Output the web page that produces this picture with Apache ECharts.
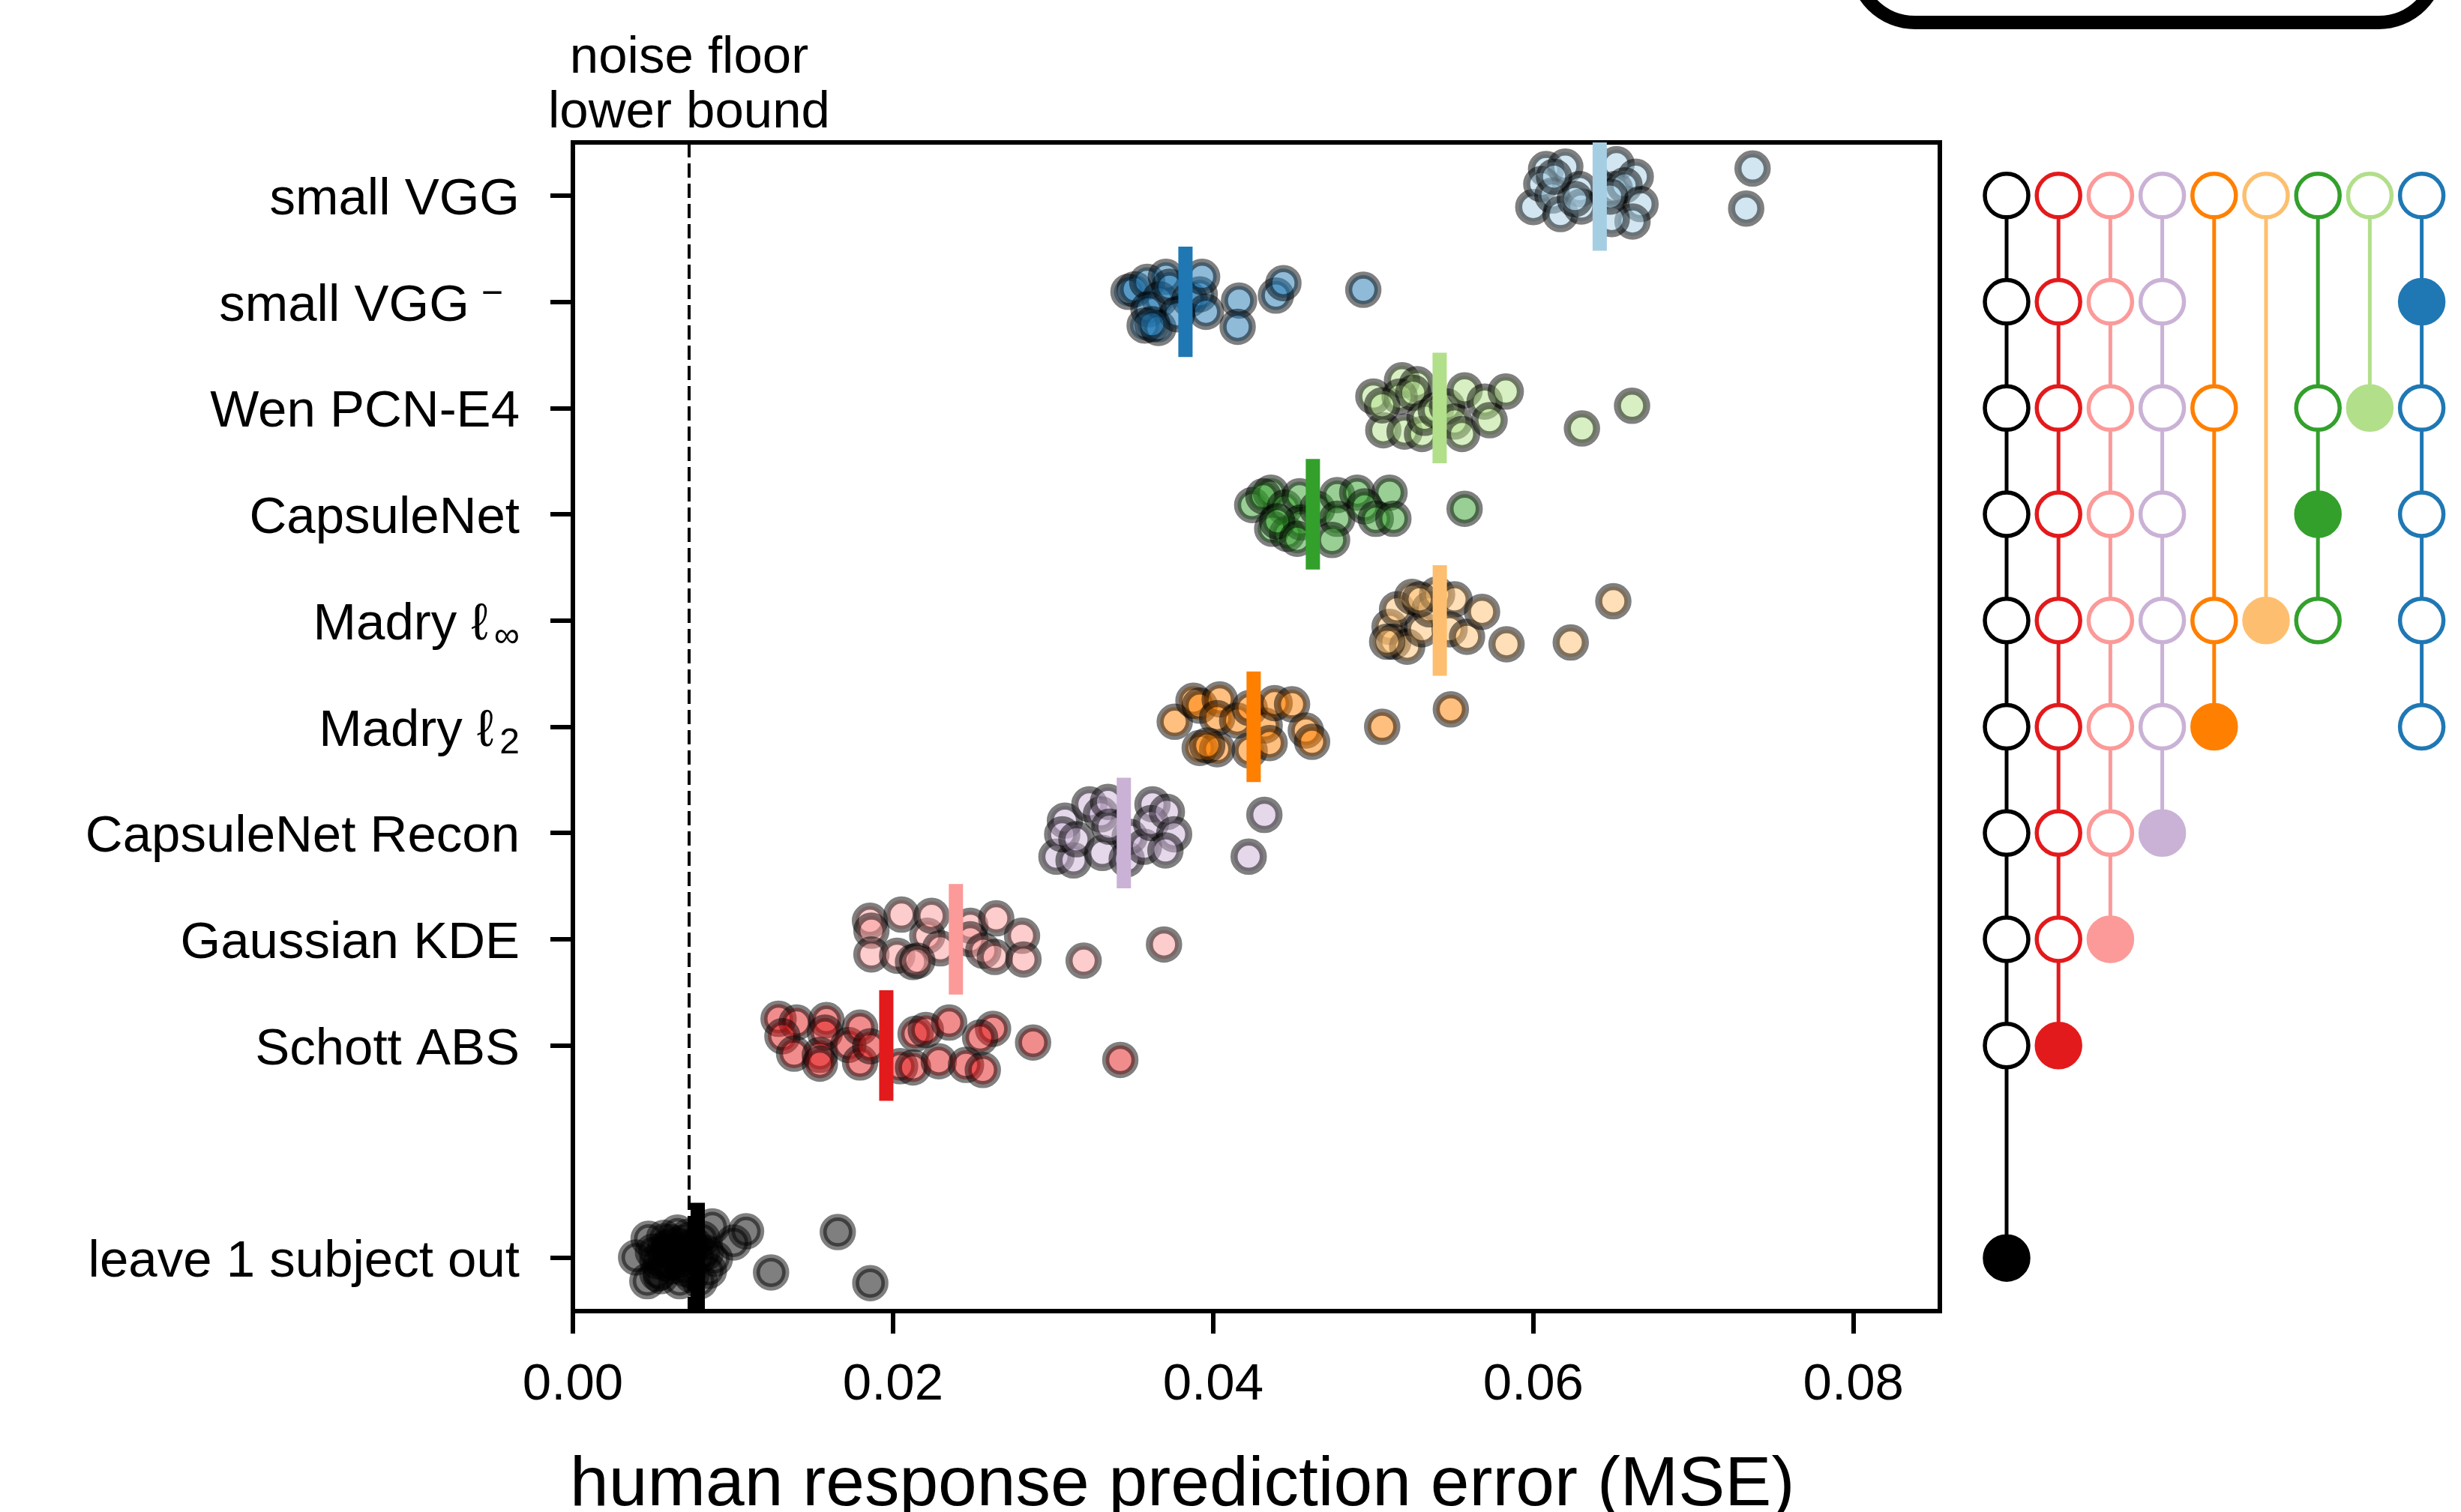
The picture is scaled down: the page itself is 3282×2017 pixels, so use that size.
<!DOCTYPE html>
<html><head><meta charset="utf-8">
<script src="https://cdn.jsdelivr.net/npm/echarts@6/dist/echarts.min.js"></script>
<style>html,body{margin:0;padding:0;background:#fff;} #c{width:3282px;height:2017px;}</style>
</head><body><div id="c"></div>
<script>
// ---------- data ----------
const categories = ['leave 1 subject out', 'Schott ABS', 'Gaussian KDE', 'CapsuleNet Recon', 'Madry ℓ{sub|2}', 'Madry ℓ{sub|∞}', 'CapsuleNet', 'Wen PCN-E4', 'small VGG{sup|−}', 'small VGG'];
const positions = [0, 2, 3, 4, 5, 6, 7, 8, 9, 10];
const colors = ['#000000', '#e31a1c', '#fb9a99', '#cab2d6', '#ff7f00', '#fdbf6f', '#33a02c', '#b2df8a', '#1f78b4', '#a6cee3'];
const means = [0.0078, 0.01958, 0.02393, 0.03442, 0.04253, 0.05416, 0.04623, 0.05415, 0.03827, 0.06415];
const noiseFloor = 0.00726;
const xTicks = [0, 0.02, 0.04, 0.06, 0.08];
const xTitle = 'human response prediction error (MSE)';

// [MSE, vertical jitter (category units, + = up)]
const leave1Pts = [[0.00473,0.181],[0.00395,0.005],[0.00465,-0.218],[0.00528,-0.030],[0.00575,0.087],[0.00653,0.239],[0.00668,-0.218],[0.00731,0.087],[0.00793,-0.218],[0.00871,0.298],[0.00887,-0.007],[0.01004,0.146],[0.01082,0.251],[0.01238,-0.136],[0.01655,0.244],[0.01858,-0.237],[0.00622,-0.077],[0.00809,0.181],[0.00528,-0.148],[0.0058,-0.05],[0.0064,0.03],[0.0070,-0.10],[0.0076,0.12],[0.0061,0.15],[0.0083,0.05],[0.0050,0.06],[0.0055,-0.17],[0.0060,0.10],[0.0066,-0.02],[0.0072,0.20],[0.0074,-0.16],[0.0079,0.02],[0.0085,-0.12],[0.0068,0.14],[0.0057,0.19]];
const schottPts = [[0.01285,0.251],[0.01398,0.216],[0.01309,0.087],[0.01382,-0.077],[0.01584,0.239],[0.01575,0.122],[0.01543,-0.089],[0.01543,-0.171],[0.01721,0.005],[0.01794,0.169],[0.01794,-0.160],[0.01858,-0.007],[0.02044,-0.195],[0.02125,-0.206],[0.02141,0.110],[0.02205,0.146],[0.02351,0.216],[0.02286,-0.148],[0.02625,0.157],[0.02544,0.075],[0.02456,-0.183],[0.02561,-0.230],[0.02875,0.028],[0.03420,-0.136]];
const kdePts = [[0.01856,0.174],[0.01865,0.080],[0.01865,-0.143],[0.02053,0.232],[0.02026,-0.155],[0.02125,-0.214],[0.02214,0.033],[0.02241,0.221],[0.02295,-0.085],[0.02483,0.127],[0.02483,0.0],[0.02564,-0.108],[0.02645,0.197],[0.02636,-0.167],[0.02806,0.033],[0.02815,-0.190],[0.03191,-0.202],[0.03693,-0.049],[0.02152,-0.202]];
const reconPts = [[0.03021,-0.223],[0.03128,-0.258],[0.03074,0.117],[0.03057,-0.012],[0.03146,-0.059],[0.03227,0.270],[0.03299,0.176],[0.03343,0.293],[0.03308,-0.188],[0.03460,-0.246],[0.03478,-0.035],[0.03568,-0.129],[0.03621,0.270],[0.03612,0.094],[0.03711,0.199],[0.03756,-0.012],[0.03702,-0.164],[0.04320,0.171],[0.04222,-0.223],[0.03352,0.059]];
const l2Pts = [[0.03760,0.047],[0.03877,0.246],[0.03916,0.199],[0.04041,0.258],[0.04025,0.082],[0.04150,0.059],[0.03916,-0.199],[0.04025,-0.211],[0.04228,0.176],[0.04228,-0.223],[0.04322,0.012],[0.04384,0.223],[0.04493,0.211],[0.04353,-0.153],[0.04579,-0.035],[0.04618,-0.141],[0.05056,0.0],[0.05485,0.164],[0.03963,-0.176]];
const linfPts = [[0.05102,-0.059],[0.05126,-0.200],[0.05149,0.106],[0.05243,0.223],[0.05212,-0.246],[0.05305,-0.082],[0.05352,0.106],[0.05399,0.246],[0.05508,0.199],[0.05477,-0.082],[0.05586,-0.153],[0.05680,0.082],[0.05833,-0.223],[0.06234,-0.207],[0.06500,0.181],[0.05290,0.199],[0.05087,-0.200]];
const capsulePts = [[0.04244,0.087],[0.04361,0.204],[0.04314,0.169],[0.04447,0.063],[0.04540,0.169],[0.04369,-0.136],[0.04462,-0.183],[0.04548,-0.077],[0.04650,0.052],[0.04775,0.181],[0.04900,0.204],[0.05102,0.204],[0.04775,-0.042],[0.04743,-0.242],[0.04946,0.075],[0.05016,-0.042],[0.05126,-0.042],[0.05571,0.052],[0.04400,-0.066],[0.04525,-0.230]];
const wenPts = [[0.05001,0.108],[0.05180,0.261],[0.05274,0.225],[0.05165,0.108],[0.05250,0.143],[0.05063,-0.209],[0.05196,-0.221],[0.05305,-0.244],[0.05321,-0.092],[0.05391,-0.021],[0.05461,0.014],[0.05508,-0.127],[0.05555,-0.244],[0.05571,0.167],[0.05696,0.061],[0.05727,-0.115],[0.05828,0.155],[0.06304,-0.192],[0.06617,0.021],[0.05056,0.026]];
const vggMinusPts = [[0.03471,0.094],[0.03510,0.117],[0.03588,0.188],[0.03705,0.235],[0.03666,0.023],[0.03596,-0.070],[0.03572,-0.223],[0.03658,-0.246],[0.03728,0.141],[0.03853,0.023],[0.03916,0.070],[0.03931,0.235],[0.03955,-0.094],[0.04162,0.012],[0.04153,-0.235],[0.04392,0.059],[0.04439,0.176],[0.04938,0.113],[0.03775,-0.117],[0.03619,-0.211]];
const vggPts = [[0.0600,-0.108],[0.0608,0.249],[0.0620,0.272],[0.0605,0.108],[0.0612,0.0],[0.0617,-0.174],[0.0629,0.061],[0.0630,-0.103],[0.0626,-0.033],[0.0613,0.178],[0.0652,0.296],[0.0664,0.178],[0.0651,0.061],[0.0657,0.096],[0.0667,-0.080],[0.0662,-0.244],[0.0649,-0.221],[0.0648,-0.009],[0.0737,0.254],[0.0733,-0.122]];
const allPts = [leave1Pts, schottPts, kdePts, reconPts, l2Pts, linfPts, capsulePts, wenPts, vggMinusPts, vggPts];

// significance panel: column k belongs to model k; open circles at these positions
const sigOpen = [
  [2,3,4,5,6,7,8,9,10],
  [3,4,5,6,7,8,9,10],
  [4,5,6,7,8,9,10],
  [5,6,7,8,9,10],
  [6,8,10],
  [10],
  [6,8,10],
  [10],
  [5,6,7,8,10]
];

// ---------- chart ----------
const FONT = 'Liberation Sans';
const chart = echarts.init(document.getElementById('c'), null, {renderer: 'canvas'});
function rgba(hex, a) {
  const n = parseInt(hex.slice(1), 16);
  return 'rgba(' + (n >> 16 & 255) + ',' + (n >> 8 & 255) + ',' + (n & 255) + ',' + a + ')';
}
const labelOf = {};
positions.forEach((p, i) => labelOf[p] = categories[i]);

const series = [];
// noise floor line
series.push({
  type: 'line', xAxisIndex: 0, yAxisIndex: 0, data: [], z: 1, silent: true,
  markLine: {
    silent: true, symbol: ['none', 'none'], animation: false, precision: 6,
    data: [{xAxis: noiseFloor}],
    lineStyle: {color: '#000', width: 4, type: [19, 8], opacity: 1},
    label: {show: true, position: 'end', formatter: 'noise floor\nlower bound',
      fontFamily: FONT, fontSize: 69, lineHeight: 73, color: '#000', distance: 3, align: 'center'}
  }
});
allPts.forEach((pts, i) => {
  series.push({
    type: 'scatter', xAxisIndex: 0, yAxisIndex: 0, z: 2,
    symbol: 'circle', symbolSize: 39,
    data: pts.map(p => [p[0], positions[i] + p[1]]),
    itemStyle: {color: rgba(colors[i], 0.5), borderColor: 'rgba(0,0,0,0.5)', borderWidth: 9.5, opacity: 1}
  });
});
// mean bars
series.push({
  type: 'custom', xAxisIndex: 0, yAxisIndex: 0, z: 3,
  data: means.map((m, i) => [m, positions[i], i]),
  renderItem: function (params, api) {
    const m = api.value(0), p = api.value(1), i = api.value(2);
    const top = api.coord([m, Math.min(p + 0.52, 10.5)]);
    const bot = api.coord([m, Math.max(p - 0.52, -0.5)]);
    return {type: 'rect', shape: {x: top[0] - 9.5, y: top[1], width: 19, height: bot[1] - top[1]},
      style: {fill: colors[i]}};
  }
});
// significance panel lines
sigOpen.forEach((open, k) => {
  const ys = open.concat([positions[k]]);
  series.push({
    type: 'line', xAxisIndex: 1, yAxisIndex: 1, z: 2, symbol: 'none', silent: true,
    data: [[k, Math.min.apply(null, ys)], [k, Math.max.apply(null, ys)]],
    lineStyle: {color: colors[k], width: 5, opacity: 1}
  });
});
const circ = [];
sigOpen.forEach((open, k) => {
  open.forEach(p => circ.push({value: [k, p], itemStyle: {color: '#fff', borderColor: colors[k]}}));
  circ.push({value: [k, positions[k]], itemStyle: {color: colors[k], borderColor: colors[k]}});
});
series.push({
  type: 'scatter', xAxisIndex: 1, yAxisIndex: 1, z: 4, symbol: 'circle', symbolSize: 58,
  itemStyle: {borderWidth: 5.5, opacity: 1}, data: circ
});

const option = {
  animation: false,
  backgroundColor: '#fff',
  grid: [
    {left: 764, top: 190, width: 1823, height: 1559, show: true, borderColor: '#000', borderWidth: 6, backgroundColor: 'transparent', containLabel: false},
    {left: 2641.4, top: 190, width: 622.8, height: 1559, show: false, containLabel: false}
  ],
  xAxis: [
    {type: 'value', gridIndex: 0, min: 0, max: 0.0854,
      axisLine: {show: true, onZero: false, lineStyle: {color: '#000', width: 6}},
      axisTick: {show: true, customValues: xTicks, length: 30, lineStyle: {color: '#000', width: 6}},
      axisLabel: {customValues: xTicks, formatter: v => v.toFixed(2), fontFamily: FONT, fontSize: 69, color: '#000', margin: 64},
      splitLine: {show: false}},
    {type: 'value', gridIndex: 1, min: -0.5, max: 8.5, show: false}
  ],
  yAxis: [
    {type: 'value', gridIndex: 0, min: -0.5, max: 10.5,
      axisLine: {show: true, onZero: false, lineStyle: {color: '#000', width: 6}},
      axisTick: {show: true, customValues: positions, length: 30, lineStyle: {color: '#000', width: 6}},
      axisLabel: {customValues: positions, formatter: v => labelOf[v], fontFamily: FONT, fontSize: 69, color: '#000', margin: 71, lineHeight: 80,
        padding: [12, 0, 0, 0],
        rich: {
          sub: {fontFamily: FONT, fontSize: 48, color: '#000', verticalAlign: 'bottom', lineHeight: 80, padding: [0, 0, 0, 8]},
          sup: {fontFamily: FONT, fontSize: 50, color: '#000', verticalAlign: 'top', lineHeight: 80, padding: [0, 22, 0, 16]}
        }},
      splitLine: {show: false}},
    {type: 'value', gridIndex: 1, min: -0.5, max: 10.5, show: false}
  ],
  graphic: [
    {type: 'text', left: 760, top: 1974 - 38, style: {text: xTitle, fontFamily: FONT, fontSize: 93, fill: '#000'}},
    {type: 'rect', shape: {x: 2474, y: -200, width: 778, height: 230, r: 80}, style: {fill: 'none', stroke: '#000', lineWidth: 18}}
  ],
  series: series
};
chart.setOption(option);
</script></body></html>
